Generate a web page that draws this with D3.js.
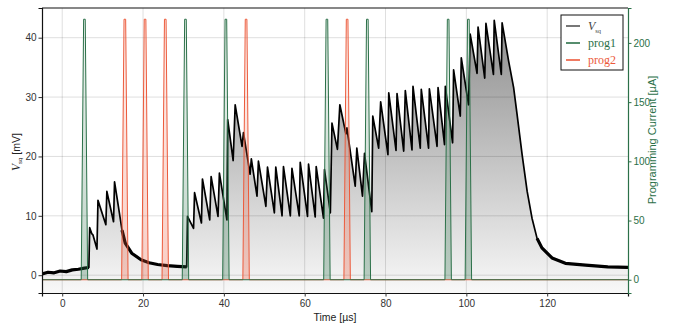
<!DOCTYPE html>
<html>
<head>
<meta charset="utf-8">
<script src="https://cdn.jsdelivr.net/npm/d3@7"></script>
<style>
  body { margin: 0; background: #fff; }
  svg { display: block; }
</style>
</head>
<body>
<div id="chart"></div>
<script>
// V_sq trace, vertices (µs, mV)
const vsqTime = [
  -5, -3.5, -2, -0.5, 1, 2.5, 4, 5.5, 6.6,
  6.8, 7.3, 7.6, 8.6, 8.85, 10.8, 11.05, 12.7, 12.95, 13.9, 14.8, 15.6, 17.2, 19.5, 21.5, 23.6, 26, 28.5, 30.8,
  31.0, 32.5, 32.75, 34.45, 34.7, 36.5, 36.85, 38.55, 38.9, 40.75,
  40.95, 42.3, 42.8, 44.5, 44.85, 46.5, 46.8, 48.2, 48.55, 50.4, 50.8, 52.5, 52.85, 54.4, 54.75, 56.45, 56.85,
  58.65, 58.9, 60.7, 60.95, 62.6, 62.85, 64.65, 64.9, 66.35,
  66.75, 68.1, 68.7, 70.2, 70.45, 72.5, 72.9, 74.3, 74.8, 76.6,
  76.85, 78.3, 78.8, 80.6, 80.8, 82.6, 82.85, 84.5, 84.9, 86.55, 86.8, 88.6, 88.85, 90.65, 90.85, 92.75, 93.0,
  94.6, 94.8, 96.6,
  96.85, 98.5, 98.75, 100.55,
  100.95, 102.65, 102.9, 104.55, 104.85, 106.7, 106.9, 108.65, 108.85, 110.45, 111.7, 112.55, 113.8, 115.05,
  116.25, 117.5, 118.7, 121.2, 124.5, 129.5, 135, 140
];
const vsqValue = [
  0.2, 0.5, 0.4, 0.7, 0.6, 0.9, 1.0, 1.2, 1.3,
  8.0, 7.0, 6.8, 4.4, 12.6, 8.5, 14.1, 9.0, 15.7, 11.6, 7.6, 5.4, 3.7, 2.6, 2.1, 1.8, 1.6, 1.5, 1.4,
  9.9, 7.9, 13.9, 8.8, 16.2, 9.3, 16.6, 9.9, 17.2, 9.3,
  26.2, 19.3, 28.7, 21.7, 24.0, 17.0, 19.6, 13.3, 19.2, 11.6, 18.2, 10.5, 18.2, 10.0, 18.3, 10.0, 18.0,
  10.0, 19.0, 9.9, 18.7, 9.8, 18.3, 9.6, 17.8, 10.5,
  25.6, 21.2, 28.7, 23.8, 24.8, 15.0, 21.4, 13.3, 20.5, 10.7,
  26.8, 21.4, 29.2, 20.3, 30.7, 21.0, 30.6, 20.9, 31.1, 21.1, 31.8, 21.4, 31.3, 21.4, 31.4, 21.7, 31.6,
  22.0, 31.8, 22.3,
  34.6, 26.8, 36.6, 28.7,
  40.6, 34.0, 41.8, 33.2, 42.4, 33.8, 42.9, 33.8, 42.5, 36.1, 31.6, 27.1, 20.3, 14.1,
  9.6, 6.2, 4.6, 2.9, 2.0, 1.7, 1.4, 1.3
];
// stretches where the trace is noisy (drawn as a thicker band)
const noisyRanges = [[-5, 6.7], [14.5, 30.9], [117, 140]];

// programming pulses (µs start) and pulse shape (µA)
const prog1Starts = [5, 30, 40, 65, 75, 95, 100];
const prog2Starts = [15, 20, 25, 45, 70];
const pulseOffset = [-0.3, 0.3, 0.7, 1.3];
const pulseLevel = [0, 220, 220, 0];

const xTicks = [0, 20, 40, 60, 80, 100, 120];
const yTicks = [0, 10, 20, 30, 40];
const y2Ticks = [0, 50, 100, 150, 200];

const W = 673, H = 325;
const plot = { left: 42, right: 628, top: 8, bottom: 293 };
const green = "#2b7048", red = "#ec5a3b";

const svg = d3.select("#chart").append("svg")
  .attr("width", W).attr("height", H);

const x = d3.scaleLinear().domain([-5, 140]).range([plot.left, plot.right]);
const y = d3.scaleLinear().domain([-3, 45]).range([plot.bottom, plot.top]);
const y2 = d3.scaleLinear().domain([-11.2, 229.5]).range([plot.bottom, plot.top]);

const defs = svg.append("defs");
defs.append("clipPath").attr("id", "clip").append("rect")
  .attr("x", plot.left).attr("y", plot.top)
  .attr("width", plot.right - plot.left).attr("height", plot.bottom - plot.top);

const gFill = defs.append("linearGradient").attr("id", "gfill")
  .attr("gradientUnits", "userSpaceOnUse")
  .attr("x1", 0).attr("x2", 0).attr("y1", plot.top).attr("y2", plot.bottom);
gFill.append("stop").attr("offset", 0).attr("stop-color", "#888");
gFill.append("stop").attr("offset", 1).attr("stop-color", "#f8f8f8");

function pulseGrad(id, col) {
  const g = defs.append("linearGradient").attr("id", id)
    .attr("gradientUnits", "userSpaceOnUse")
    .attr("x1", 0).attr("x2", 0).attr("y1", y2(220)).attr("y2", y2(0));
  g.append("stop").attr("offset", 0).attr("stop-color", col).attr("stop-opacity", 0.08);
  g.append("stop").attr("offset", 1).attr("stop-color", col).attr("stop-opacity", 0.3);
}
pulseGrad("gp1", green);
pulseGrad("gp2", red);

const vsq = vsqTime.map((t, i) => [t, vsqValue[i]]);

const area = d3.area().x(d => x(d[0])).y0(plot.bottom).y1(d => y(d[1]));
const line = d3.line().x(d => x(d[0])).y(d => y(d[1]));

const body = svg.append("g").attr("clip-path", "url(#clip)");

body.append("path").datum(vsq).attr("d", area).attr("fill", "url(#gfill)");

// grid
body.append("g").selectAll("line").data(xTicks).join("line")
  .attr("x1", d => x(d)).attr("x2", d => x(d))
  .attr("y1", plot.top).attr("y2", plot.bottom)
  .attr("stroke", "rgba(0,0,0,0.13)").attr("stroke-width", 1);
body.append("g").selectAll("line").data(yTicks).join("line")
  .attr("x1", plot.left).attr("x2", plot.right)
  .attr("y1", d => y(d)).attr("y2", d => y(d))
  .attr("stroke", "rgba(0,0,0,0.13)").attr("stroke-width", 1);

// V_sq
body.append("path").datum(vsq).attr("d", line)
  .attr("fill", "none").attr("stroke", "#000")
  .attr("stroke-width", 1.7).attr("stroke-linejoin", "round");
noisyRanges.forEach(r => {
  body.append("path").datum(vsq.filter(d => d[0] >= r[0] && d[0] <= r[1]))
    .attr("d", line).attr("fill", "none").attr("stroke", "#000")
    .attr("stroke-width", 3.2).attr("stroke-linejoin", "round");
});

// programming currents
function pulseTrace(starts) {
  const pts = [[-5, 0]];
  starts.forEach(s => pulseOffset.forEach((o, i) => pts.push([s + o, pulseLevel[i]])));
  pts.push([140, 0]);
  return pts;
}
const pArea = d3.area().x(d => x(d[0])).y0(y2(0)).y1(d => y2(d[1]));
const pLine = d3.line().x(d => x(d[0])).y(d => y2(d[1]));

[[prog2Starts, red, "gp2"], [prog1Starts, green, "gp1"]].forEach(([starts, col, gid]) => {
  const tr = pulseTrace(starts);
  body.append("path").datum(tr).attr("d", pArea).attr("fill", `url(#${gid})`);
  body.append("path").datum(tr).attr("d", pLine)
    .attr("fill", "none").attr("stroke", col).attr("stroke-width", 1)
    .attr("stroke-linejoin", "round");
});

// axes
const tickFont = "'Liberation Sans', Arial, sans-serif";
const narrowFont = "'Liberation Sans Narrow', 'Liberation Sans', Arial, sans-serif";
const xAxis = svg.append("g").attr("transform", `translate(0,${plot.bottom})`)
  .call(d3.axisBottom(x).tickValues(xTicks).tickSize(3.5).tickPadding(3));
const yAxis = svg.append("g").attr("transform", `translate(${plot.left},0)`)
  .call(d3.axisLeft(y).tickValues(yTicks).tickSize(3.5).tickPadding(2));
const y2Axis = svg.append("g").attr("transform", `translate(${plot.right},0)`)
  .call(d3.axisRight(y2).tickValues(y2Ticks).tickSize(3.5).tickPadding(2));

[xAxis, yAxis].forEach(g => {
  g.selectAll("text").attr("font-family", tickFont).attr("font-size", 10).attr("fill", "#333");
  g.selectAll("line").attr("stroke", "#333");
  g.select(".domain").attr("stroke", "#111").attr("stroke-width", 1.2);
});
y2Axis.selectAll("text").attr("font-family", tickFont).attr("font-size", 10).attr("fill", green);
y2Axis.selectAll("line").attr("stroke", green);
y2Axis.select(".domain").attr("stroke", green).attr("stroke-width", 1.2);

// top spine
svg.append("line").attr("x1", plot.left).attr("x2", plot.right)
  .attr("y1", plot.top).attr("y2", plot.top).attr("stroke", "#111").attr("stroke-width", 1.2);

// axis labels
svg.append("text").attr("x", (plot.left + plot.right) / 2).attr("y", 321)
  .attr("text-anchor", "middle").attr("font-family", tickFont).attr("font-size", 10.5)
  .attr("fill", "#222").text("Time [µs]");

const yl = svg.append("text").attr("transform", "translate(20,152) rotate(-90)")
  .attr("text-anchor", "middle").attr("font-family", tickFont).attr("font-size", 10.5)
  .attr("fill", "#222");
yl.append("tspan").attr("font-family", "'Liberation Serif', serif").attr("font-style", "italic")
  .attr("font-size", 11.5).text("V");
yl.append("tspan").attr("font-size", 6).attr("dy", 2).text("sq");
yl.append("tspan").attr("dy", -2).text(" [mV]");

svg.append("text").attr("transform", "translate(656,140) rotate(-90)")
  .attr("text-anchor", "middle").attr("font-family", narrowFont).attr("font-size", 11)
  .attr("fill", green).text("Programming Current [µA]");

// legend
const lg = svg.append("g");
lg.append("rect").attr("x", 561).attr("y", 15).attr("width", 62).attr("height", 55)
  .attr("fill", "#fff").attr("stroke", "#111").attr("stroke-width", 1);
const legendItems = [
  { label: "V", sub: "sq", col: "#555", tcol: "#444" },
  { label: "prog1", col: green, tcol: green },
  { label: "prog2", col: red, tcol: red }
];
legendItems.forEach((d, i) => {
  const cy = 26 + i * 17;
  lg.append("line").attr("x1", 566).attr("x2", 580).attr("y1", cy).attr("y2", cy)
    .attr("stroke", d.col).attr("stroke-width", 1.6);
  const t = lg.append("text").attr("x", 588).attr("y", cy + 4)
    .attr("font-family", "'Liberation Serif', serif").attr("font-size", 12).attr("fill", d.tcol);
  if (d.sub) {
    t.append("tspan").attr("font-style", "italic").text(d.label);
    t.append("tspan").attr("font-size", 6.5).attr("dy", 3).text(d.sub);
  } else {
    t.text(d.label);
  }
});
</script>
</body>
</html>
